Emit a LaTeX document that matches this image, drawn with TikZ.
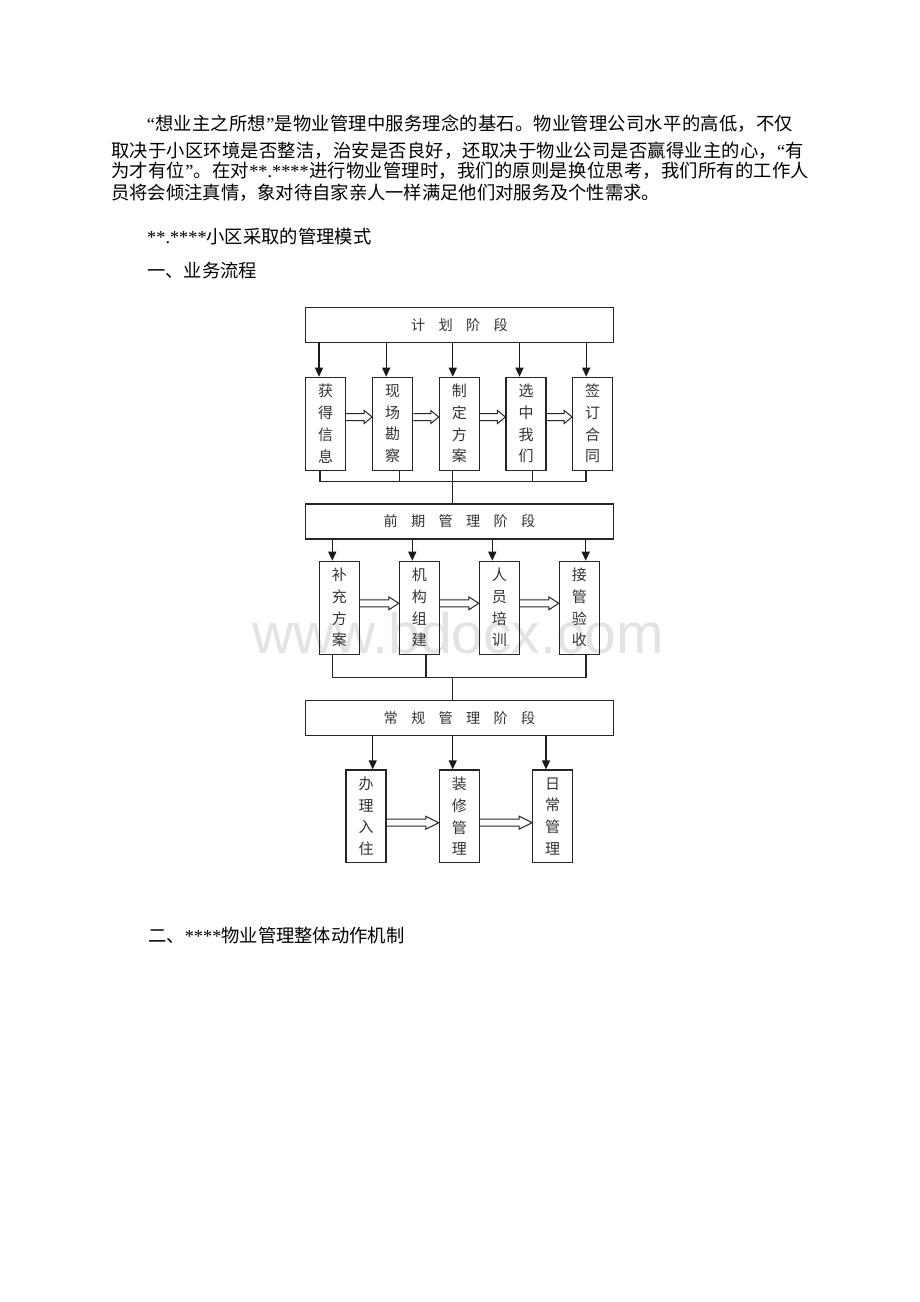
\documentclass[tikz,border=0pt]{standalone}
\usepackage{fontspec}
\setmainfont{Liberation Serif}
\newfontfamily\cjk{Noto Sans CJK SC}
\newfontfamily\lat{Liberation Serif}
\newfontfamily\wmfont{Liberation Sans}
\usetikzlibrary{arrows.meta,calc}
\newcommand\sprend{SPREND}
\def\spreadline#1#2{\makebox[#1][s]{\sprfirst#2\sprend}}
\def\sprfirst#1{{#1}\sprnext}
\def\sprnext#1{\ifx\sprend#1\else\hfil{#1}\expandafter\sprnext\fi}
\newcommand\gapx{\hspace{13.3pt}}
\tikzset{
  body/.style={anchor=base west, inner sep=0, font=\cjk\fontsize{18.3}{18.3}\selectfont, text=black},
  big/.style={draw=black!85, line width=1.1pt, minimum width=307.6pt, minimum height=35pt, inner sep=0,
     font=\cjk\fontsize{14.2}{14.2}\selectfont, text=black!80},
  sm/.style={draw=black!85, line width=1.1pt, minimum width=40pt, minimum height=92.8pt, inner sep=0,
     align=center, font=\cjk\fontsize{15}{21.7}\selectfont, text=black!80},
  arr/.style={draw=black!90, line width=1.3pt, -{Triangle[length=9pt,width=8pt]}},
  ln/.style={draw=black!85, line width=1.1pt},
  harrow/.style={draw=black!85, line width=1pt, line join=miter},
  wm/.style={anchor=base west, inner sep=0, font=\wmfont\fontsize{57}{57}\selectfont, text=black!11}
}
% #1 left node, #2 right node, #3 y-coordinate name, #4 head length
\newcommand\hollowarrow[4]{%
  \draw[harrow] ($(#1.east |- #3)+(0,-3.5)$) -- ($(#2.west |- #3)+(-#4,-3.5)$) -- ++(0,-3)
     -- (#2.west |- #3) -- ($(#2.west |- #3)+(-#4,6.5)$) -- ++(0,-3) -- ($(#1.east |- #3)+(0,3.5)$);}
\begin{document}
\begin{tikzpicture}[x=1pt,y=-1pt]
\useasboundingbox (0,0) rectangle (920,1302);
\fill[white] (0,0) rectangle (920,1302);

% watermark
\node[wm] (wm) at (252,653) {www.bdocx.com};

% body text
\node[body] (l1) at (146.7,130) {\spreadline{646pt}{{\lat “}想业主之所想{\lat ”}是物业管理中服务理念的基石。物业管理公司水平的高低，不仅}};
\node[body] (l2) at (111,157) {\spreadline{692.5pt}{取决于小区环境是否整洁，治安是否良好，还取决于物业公司是否赢得业主的心，{\lat “}有}};
\node[body] (l3) at (111,177.3) {\spreadline{698pt}{为才有位{\lat ”}。在对{\lat **.****}进行物业管理时，我们的原则是换位思考，我们所有的工作人}};
\node[body] (l4) at (111,199.3) {员将会倾注真情，象对待自家亲人一样满足他们对服务及个性需求。};
\node[body] (l5) at (147,243) {{\lat **.****}小区采取的管理模式};
\node[body] (l6) at (147,277) {一、业务流程};
\node[body] (l7) at (148,942) {二、{\lat ****}物业管理整体动作机制};

% ---------- stage 1 ----------
\node[big] (P1) at (459.5,325) {计\gapx 划\gapx 阶\gapx 段};
\node[sm] (A1) at (325.5,423.65) {获\\得\\信\\息};
\node[sm] (A2) at (392.7,423.65) {现\\场\\勘\\察};
\node[sm] (A3) at (459.3,423.65) {制\\定\\方\\案};
\node[sm] (A4) at (526,423.65) {选\\中\\我\\们};
\node[sm] (A5) at (592.7,423.65) {签\\订\\合\\同};
\foreach \n in {1,...,5}{
  \coordinate (tA\n) at ($(A\n.north)+(-6.5,0)$);
  \draw[arr] (tA\n |- P1.south) -- (tA\n);
}
\coordinate (hA) at (0,417);
\hollowarrow{A1}{A2}{hA}{8}
\hollowarrow{A2}{A3}{hA}{8}
\hollowarrow{A3}{A4}{hA}{8}
\hollowarrow{A4}{A5}{hA}{8}
\coordinate (jA) at (0,481.7);
\coordinate (bA1) at ($(A1.south)+(-5.5,0)$);
\coordinate (bA2) at ($(A2.south)+(6.6,0)$);
\coordinate (bA3) at ($(A3.south)+(-6.6,0)$);
\coordinate (bA4) at ($(A4.south)+(6.7,0)$);
\coordinate (bA5) at ($(A5.south)+(-6.7,0)$);
\draw[ln] (bA1) -- (bA1 |- jA) -- (bA5 |- jA) -- (bA5);
\draw[ln] (bA2) -- (bA2 |- jA);
\draw[ln] (bA4) -- (bA4 |- jA);

% ---------- stage 2 ----------
\node[big] (P2) at (459.5,521.5) {前\gapx 期\gapx 管\gapx 理\gapx 阶\gapx 段};
\draw[ln] (bA3) -- (bA3 |- P2.north);
\node[sm] (B1) at (339.3,607.65) {补\\充\\方\\案};
\node[sm] (B2) at (419.3,607.65) {机\\构\\组\\建};
\node[sm] (B3) at (499.3,607.65) {人\\员\\培\\训};
\node[sm] (B4) at (579.3,607.65) {接\\管\\验\\收};
\coordinate (tB1) at ($(B1.north)+(-7,0)$);
\coordinate (tB2) at ($(B2.north)+(-7,0)$);
\coordinate (tB3) at ($(B3.north)+(-7,0)$);
\coordinate (tB4) at ($(B4.north)+(6.4,0)$);
\foreach \n in {1,...,4}{ \draw[arr] (tB\n |- P2.south) -- (tB\n); }
\coordinate (hB) at (0,603.3);
\hollowarrow{B1}{B2}{hB}{10}
\hollowarrow{B2}{B3}{hB}{10}
\hollowarrow{B3}{B4}{hB}{10}
\coordinate (jB) at (0,677.5);
\coordinate (bB1) at ($(B1.south)+(-6.6,0)$);
\coordinate (bB2) at ($(B2.south)+(6.7,0)$);
\coordinate (bB4) at ($(B4.south)+(6.7,0)$);
\draw[ln] (bB1) -- (bB1 |- jB) -- (bB4 |- jB) -- (bB4);
\draw[ln] (bB2) -- (bB2 |- jB);

% ---------- stage 3 ----------
\node[big] (P3) at (459.5,718) {常\gapx 规\gapx 管\gapx 理\gapx 阶\gapx 段};
\coordinate (trB) at (452.7,677.5);
\draw[ln] (trB) -- (trB |- P3.north);
\node[sm] (C1) at (366,816.35) {办\\理\\入\\住};
\node[sm] (C2) at (459.3,816.35) {装\\修\\管\\理};
\node[sm] (C3) at (552.7,816.35) {日\\常\\管\\理};
\coordinate (tC1) at ($(C1.north)+(6.7,0)$);
\coordinate (tC2) at ($(C2.north)+(-6.6,0)$);
\coordinate (tC3) at ($(C3.north)+(-6.7,0)$);
\foreach \n in {1,...,3}{ \draw[arr] (tC\n |- P3.south) -- (tC\n); }
\coordinate (hC) at (0,822.7);
\hollowarrow{C1}{C2}{hC}{13}
\hollowarrow{C2}{C3}{hC}{13}
\end{tikzpicture}
\end{document}
